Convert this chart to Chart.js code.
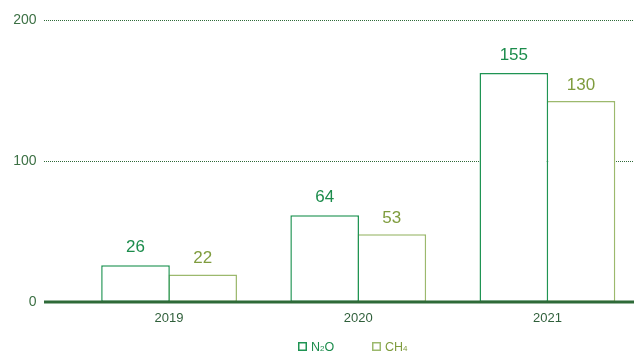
<!DOCTYPE html>
<html>
<head>
<meta charset="utf-8">
<script src="https://cdn.jsdelivr.net/npm/chart.js@4"></script>
<style>
  html, body { margin: 0; padding: 0; background: #fff; overflow: hidden; }
  #wrap { width: 642px; height: 354px; }
</style>
</head>
<body>
<div id="wrap"><canvas id="emisiChart"></canvas></div>
<script>
// ===== DATA =====
const years = ["2019", "2020", "2021"];
const n2oValues = [26, 61.5, 162.5];   // bar heights as drawn
const ch4Values = [19.5, 48, 142.5];
const n2oLabels = ["26", "64", "155"]; // numbers printed above the bars
const ch4Labels = ["22", "53", "130"];
const yTicks = [0, 100, 200];

const GREEN = "#1f9453";
const GREEN_TXT = "#1c8c4c";
const OLIVE = "#9cb96d";
const OLIVE_TXT = "#7f9c3e";
const DARK = "#2e6a38";
const FONT = "'Liberation Sans', Arial, sans-serif";
const VIEW_W = 634;

// ===== GARIS GRID + LABEL NILAI + LEGENDA =====
const decorPlugin = {
    id: "decor",
    beforeDatasetsDraw(chart) {
        const ctx = chart.ctx;
        const y = chart.scales.y;
        ctx.save();
        ctx.strokeStyle = DARK;
        ctx.lineWidth = 1;
        ctx.setLineDash([1, 1]);
        yTicks.filter(v => v > 0).forEach(v => {
            const py = Math.round(y.getPixelForValue(v)) + 0.5;
            ctx.beginPath();
            ctx.moveTo(44, py);
            ctx.lineTo(VIEW_W, py);
            ctx.stroke();
        });
        ctx.restore();
    },
    afterDatasetsDraw(chart) {
        const ctx = chart.ctx;
        const y = chart.scales.y;
        ctx.save();
        // garis nol
        const py0 = y.getPixelForValue(0);
        ctx.strokeStyle = DARK;
        ctx.lineWidth = 3;
        ctx.beginPath();
        ctx.moveTo(44, py0);
        ctx.lineTo(VIEW_W, py0);
        ctx.stroke();

        // label nilai
        ctx.font = "17px " + FONT;
        ctx.textAlign = "center";
        ctx.textBaseline = "middle";
        const sets = [[n2oLabels, GREEN_TXT, 18], [ch4Labels, OLIVE_TXT, 16]];
        sets.forEach(([labels, color, gap], di) => {
            const meta = chart.getDatasetMeta(di);
            ctx.fillStyle = color;
            meta.data.forEach((bar, i) => {
                ctx.fillText(labels[i], bar.x, bar.y - gap);
            });
        });

        // legenda
        const ly = 346.5;
        const items = [
            { x: 298, base: ["N", "2", "O"], color: GREEN, txt: GREEN_TXT },
            { x: 372, base: ["CH", "4", ""], color: OLIVE, txt: OLIVE_TXT }
        ];
        ctx.textAlign = "left";
        ctx.textBaseline = "alphabetic";
        items.forEach(it => {
            ctx.strokeStyle = it.color;
            ctx.lineWidth = 1.5;
            ctx.setLineDash([]);
            ctx.strokeRect(it.x + 0.75, ly - 3.75, 7.5, 7.5);
            let tx = it.x + 13;
            const base = ly + 4.5;
            ctx.fillStyle = it.txt;
            ctx.font = "12.5px " + FONT;
            ctx.fillText(it.base[0], tx, base);
            tx += ctx.measureText(it.base[0]).width;
            ctx.font = "8px " + FONT;
            ctx.fillText(it.base[1], tx, base);
            tx += ctx.measureText(it.base[1]).width;
            ctx.font = "12.5px " + FONT;
            ctx.fillText(it.base[2], tx, base);
        });
        ctx.restore();
    }
};

// ===== GRAFIK =====
const ctx = document.getElementById("emisiChart");

new Chart(ctx, {
    type: "bar",
    data: {
        labels: years,
        datasets: [
            {
                label: "N₂O",
                data: n2oValues,
                backgroundColor: "#ffffff",
                borderColor: GREEN,
                borderWidth: 1.5,
                borderSkipped: false,
                order: 1
            },
            {
                label: "CH₄",
                data: ch4Values,
                backgroundColor: "#ffffff",
                borderColor: OLIVE,
                borderWidth: 1.5,
                borderSkipped: false,
                order: 2
            }
        ]
    },
    options: {
        responsive: true,
        maintainAspectRatio: false,
        animation: false,
        layout: {
            padding: { top: 20, right: 0, bottom: 0, left: 0 }
        },
        datasets: {
            bar: { categoryPercentage: 0.71, barPercentage: 1.022 }
        },
        plugins: {
            legend: { display: false },
            tooltip: { enabled: false }
        },
        scales: {
            x: {
                grid: { display: false, drawTicks: false },
                border: { display: false },
                ticks: {
                    color: "#2f5f3a",
                    font: { family: FONT, size: 13 },
                    padding: 9
                },
                afterFit(scale) {
                    scale.height = 52;
                    scale.paddingLeft = 0;
                    scale.paddingRight = 0;
                }
            },
            y: {
                min: 0,
                max: 200,
                grid: { display: false, drawTicks: false },
                border: { display: false },
                afterBuildTicks(scale) {
                    scale.ticks = yTicks.map(v => ({ value: v }));
                },
                ticks: {
                    color: "#3c7044",
                    font: { family: FONT, size: 14 },
                    padding: 38
                },
                afterFit(scale) {
                    scale.width = 74.5;
                    scale.paddingTop = 0;
                    scale.paddingBottom = 0;
                }
            }
        }
    },
    plugins: [decorPlugin]
});
</script>
</body>
</html>
